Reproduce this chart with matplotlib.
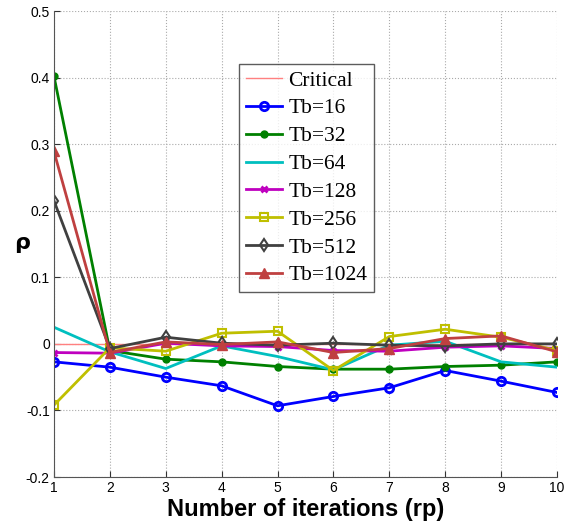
import numpy as np
import matplotlib
matplotlib.use('Agg')
import matplotlib.pyplot as plt

# Data
iters = [1, 2, 3, 4, 5, 6, 7, 8, 9, 10]
critical = [0] * 10
tb16 = [-0.027, -0.035, -0.050, -0.063, -0.093, -0.079, -0.066, -0.040, -0.056, -0.073]
tb32 = [0.402, -0.010, -0.023, -0.027, -0.034, -0.038, -0.038, -0.034, -0.032, -0.027]
tb64 = [0.025, -0.012, -0.037, -0.003, -0.019, -0.039, -0.002, 0.004, -0.027, -0.035]
tb128 = [-0.013, -0.014, 0.001, -0.003, -0.004, -0.010, -0.011, -0.005, -0.003, -0.007]
tb256 = [-0.092, -0.006, -0.011, 0.016, 0.019, -0.040, 0.011, 0.022, 0.010, -0.010]
tb512 = [0.215, -0.007, 0.010, 0.001, -0.002, 0.001, -0.002, -0.003, 0.000, 0.000]
tb1024 = [0.289, -0.013, 0.003, -0.001, 0.003, -0.013, -0.007, 0.008, 0.012, -0.012]
x_ticks = [1, 2, 3, 4, 5, 6, 7, 8, 9, 10]
y_ticks = [-0.2, -0.1, 0, 0.1, 0.2, 0.3, 0.4, 0.5]
y_labels = ['-0.2', '-0.1', '0', '0.1', '0.2', '0.3', '0.4', '0.5']

fig = plt.figure(figsize=(5.64, 5.25), dpi=100)
ax = fig.add_axes([0.0957, 0.0914, 0.8919, 0.8876])

ax.plot(iters, critical, color=(1, 0.5, 0.5), lw=1, label='Critical')
ax.plot(iters, tb16, color=(0, 0, 1), lw=2, marker='o', ms=6, mfc='none', mew=2, label='Tb=16')
ax.plot(iters, tb32, color=(0, 0.5, 0), lw=2, marker='o', ms=5, label='Tb=32')
ax.plot(iters, tb64, color=(0, 0.75, 0.75), lw=2, label='Tb=64')
ax.plot(iters, tb128, color=(0.75, 0, 0.75), lw=2, marker='x', ms=5, mew=2, label='Tb=128')
ax.plot(iters, tb256, color=(0.75, 0.75, 0), lw=2, marker='s', ms=6, mfc='none', mew=1.5, label='Tb=256')
ax.plot(iters, tb512, color=(0.25, 0.25, 0.25), lw=2, marker='d', ms=6, mfc='none', mew=1.5, label='Tb=512')
ax.plot(iters, tb1024, color=(0.75, 0.25, 0.25), lw=2, marker='^', ms=7, label='Tb=1024')

ax.set_xlim(1, 10)
ax.set_ylim(-0.2, 0.5)
ax.set_xticks(x_ticks)
ax.set_yticks(y_ticks)
ax.set_yticklabels(y_labels)
ax.tick_params(labelsize=10, direction='in', length=4, pad=3, colors='#333333', labelcolor='black')
for lab in ax.get_xticklabels() + ax.get_yticklabels():
    lab.set_family('Liberation Sans')

ax.grid(True, linestyle=':', color='#aaaaaa', lw=0.8)
ax.spines['top'].set_visible(False)
ax.spines['right'].set_visible(False)
ax.spines['left'].set_color('#555555')
ax.spines['bottom'].set_color('#555555')

ax.set_xlabel('Number of iterations (rp)', fontsize=17, fontweight='bold', family='Liberation Sans', labelpad=2)
ax.set_ylabel('ρ', fontsize=16, fontweight='bold', family='DejaVu Sans', rotation=0)
ax.yaxis.set_label_coords(-0.064, 0.48)

leg = ax.legend(loc='upper left', bbox_to_anchor=(0.368, 0.886), borderaxespad=0,
                prop={'family': 'Liberation Serif', 'size': 15.5}, fancybox=False,
                handlelength=1.7, handletextpad=0.3, labelspacing=0.36, borderpad=0.3)
leg.get_frame().set_edgecolor('#333333')
leg.get_frame().set_linewidth(1)

fig.savefig('out.png', dpi=100)
